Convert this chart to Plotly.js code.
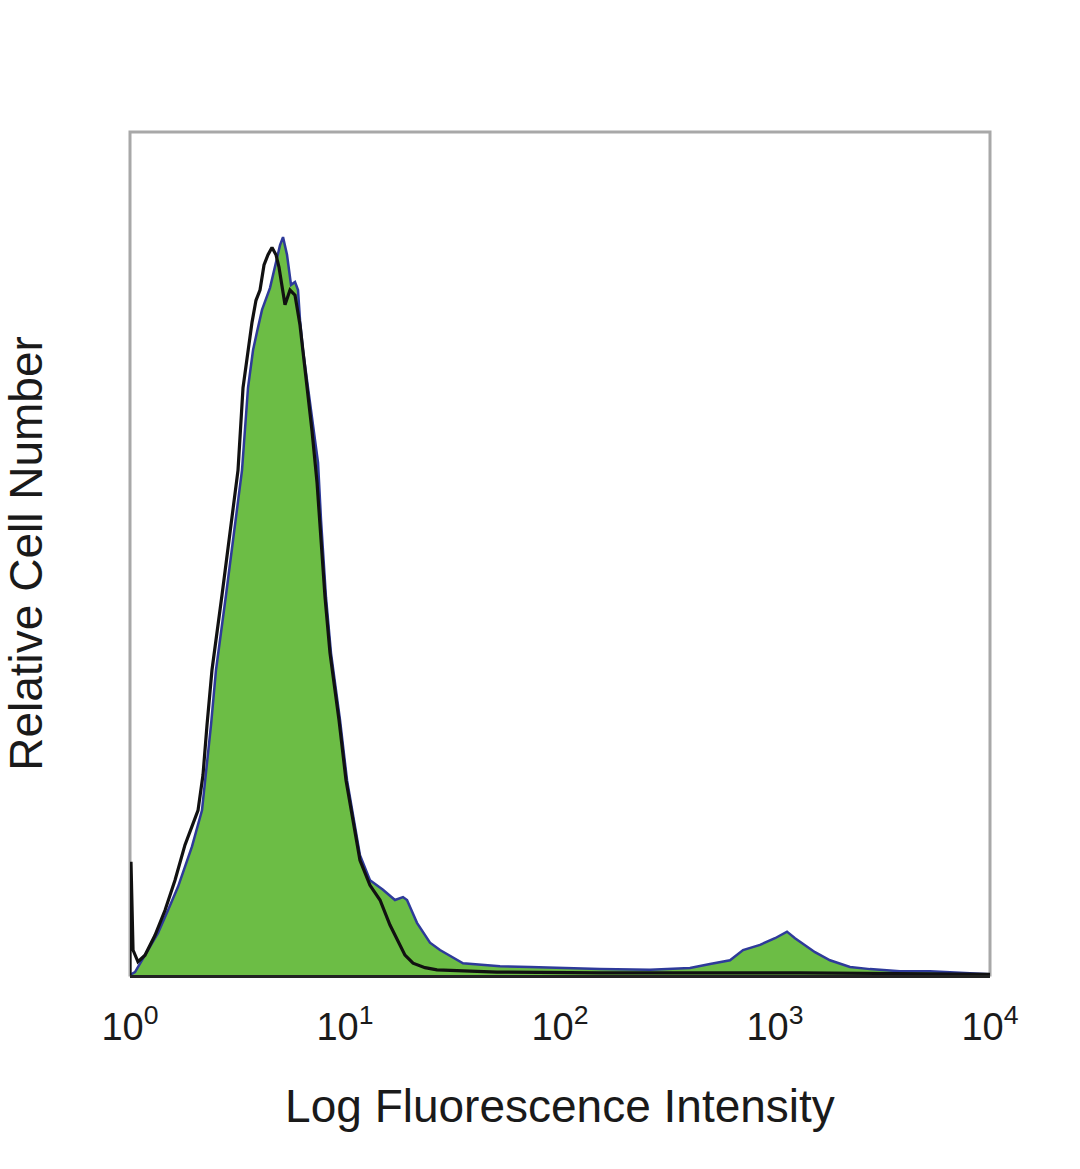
<!DOCTYPE html>
<html>
<head>
<meta charset="utf-8">
<script src="https://cdn.plot.ly/plotly-3.0.1.min.js"></script>
<style>html,body{margin:0;padding:0;background:#fff;}#chart{width:1080px;height:1169px;}</style>
</head>
<body>
<div id="chart"></div>
<script>
// Stained sample (green filled histogram)
const stainedIntensity = [1.0, 1.03, 1.055, 1.174, 1.349, 1.502, 1.672, 1.943, 2.162, 2.381, 2.512, 2.796, 3.112, 3.319, 3.539, 3.734, 3.896, 4.111, 4.479, 4.726, 4.986, 5.149, 5.374, 5.610, 5.855, 6.046, 6.177, 6.378, 6.656, 6.876, 7.254, 7.491, 7.735, 8.157, 8.608, 9.479, 10.22, 10.89, 11.74, 13.07, 15.02, 17.08, 18.61, 19.43, 21.62, 24.85, 27.66, 35.39, 52.60, 72.53, 153.5, 262.2, 402.4, 498.6, 617.7, 710.2, 851.7, 1000, 1137, 1239, 1379, 1535, 1802, 2233, 2766, 3814, 5260, 7254, 10000];
const stainedCount = [0, 0.2, 0.4, 2.7, 5.7, 8.8, 12.0, 17.5, 22.4, 34.0, 41.5, 51.7, 62.0, 68.7, 79.9, 85.0, 87.5, 90.5, 93.5, 96.6, 99.3, 100.4, 98.0, 93.9, 94.3, 93.2, 89.1, 85.0, 81.0, 77.8, 72.8, 69.7, 61.9, 51.4, 43.8, 34.7, 26.5, 22.0, 16.3, 12.9, 11.6, 10.2, 10.6, 10.2, 7.1, 4.4, 3.4, 1.6, 1.2, 1.1, 0.8, 0.7, 0.95, 1.5, 2.0, 3.4, 4.1, 5.0, 5.9, 5.0, 4.1, 3.1, 2.0, 1.1, 0.8, 0.5, 0.5, 0.3, 0.1];

// Isotype control (black outline histogram)
const controlIntensity = [1.0, 1.0, 1.011, 1.033, 1.089, 1.174, 1.307, 1.455, 1.619, 1.802, 2.072, 2.185, 2.281, 2.406, 2.679, 2.981, 3.180, 3.355, 3.539, 3.694, 3.855, 4.024, 4.201, 4.385, 4.576, 4.775, 4.932, 5.093, 5.26, 5.55, 5.855, 6.177, 6.378, 6.656, 7.025, 7.412, 7.653, 8.074, 8.517, 9.378, 10.11, 10.78, 11.74, 13.07, 14.55, 16.19, 17.46, 19.01, 20.72, 23.56, 26.78, 50.93, 153.5, 447.9, 1306, 10000];
const controlCount = [0, 15.2, 15.2, 3.4, 1.8, 2.7, 5.4, 8.8, 12.9, 17.7, 22.4, 27.2, 34.0, 41.5, 51.7, 62.0, 68.7, 79.9, 85.0, 88.8, 91.8, 93.2, 96.6, 98.0, 99.0, 98.0, 96.3, 93.9, 91.2, 93.2, 92.5, 88.4, 85.0, 80.0, 74.0, 67.0, 61.0, 51.4, 43.8, 34.7, 26.5, 22.0, 15.6, 12.2, 10.2, 6.8, 4.8, 2.7, 1.6, 1.0, 0.7, 0.4, 0.3, 0.3, 0.3, 0.1];

const tickValues = [1, 10, 100, 1000, 10000];
const tickLabels = ['10<sup>0</sup>', '10<sup>1</sup>', '10<sup>2</sup>', '10<sup>3</sup>', '10<sup>4</sup>'];

const FONT = '"Liberation Sans Narrow", "Liberation Sans", Arial, sans-serif';

const traces = [
  {
    x: stainedIntensity, y: stainedCount, type: 'scatter', mode: 'lines',
    fill: 'tozeroy', fillcolor: '#6cbd45',
    line: {color: '#2e3a9a', width: 2.5, shape: 'linear'},
    hoverinfo: 'skip', showlegend: false
  },
  {
    x: controlIntensity, y: controlCount, type: 'scatter', mode: 'lines',
    line: {color: '#111111', width: 3.2},
    hoverinfo: 'skip', showlegend: false
  }
];

const layout = {
  width: 1080, height: 1169,
  margin: {l: 130, r: 90, t: 132, b: 194},
  paper_bgcolor: '#ffffff', plot_bgcolor: '#ffffff',
  showlegend: false,
  xaxis: {
    type: 'log', range: [0, 4],
    tickvals: tickValues, ticktext: tickLabels,
    ticks: 'outside', ticklen: 16, tickcolor: 'rgba(0,0,0,0)',
    showgrid: false, zeroline: false,
    showline: true, linecolor: '#222222', linewidth: 3,
    tickfont: {family: FONT, size: 38, color: '#1a1a1a'},
    title: {text: 'Log Fluorescence Intensity', font: {family: FONT, size: 46, color: '#1a1a1a'}, standoff: 44},
    automargin: false
  },
  yaxis: {
    range: [0, 114.7],
    showticklabels: false, ticks: '',
    showgrid: false, zeroline: false, showline: false,
    title: {text: 'Relative Cell Number', font: {family: FONT, size: 46, color: '#1a1a1a'}, standoff: 72},
    automargin: false
  },
  shapes: [
    {type: 'rect', xref: 'paper', yref: 'paper', x0: 0, x1: 1, y0: 0, y1: 1,
     line: {color: '#a8a8a8', width: 3}, fillcolor: 'rgba(0,0,0,0)', layer: 'below'}
  ]
};

Plotly.newPlot('chart', traces, layout, {displayModeBar: false, staticPlot: true});
</script>
</body>
</html>
